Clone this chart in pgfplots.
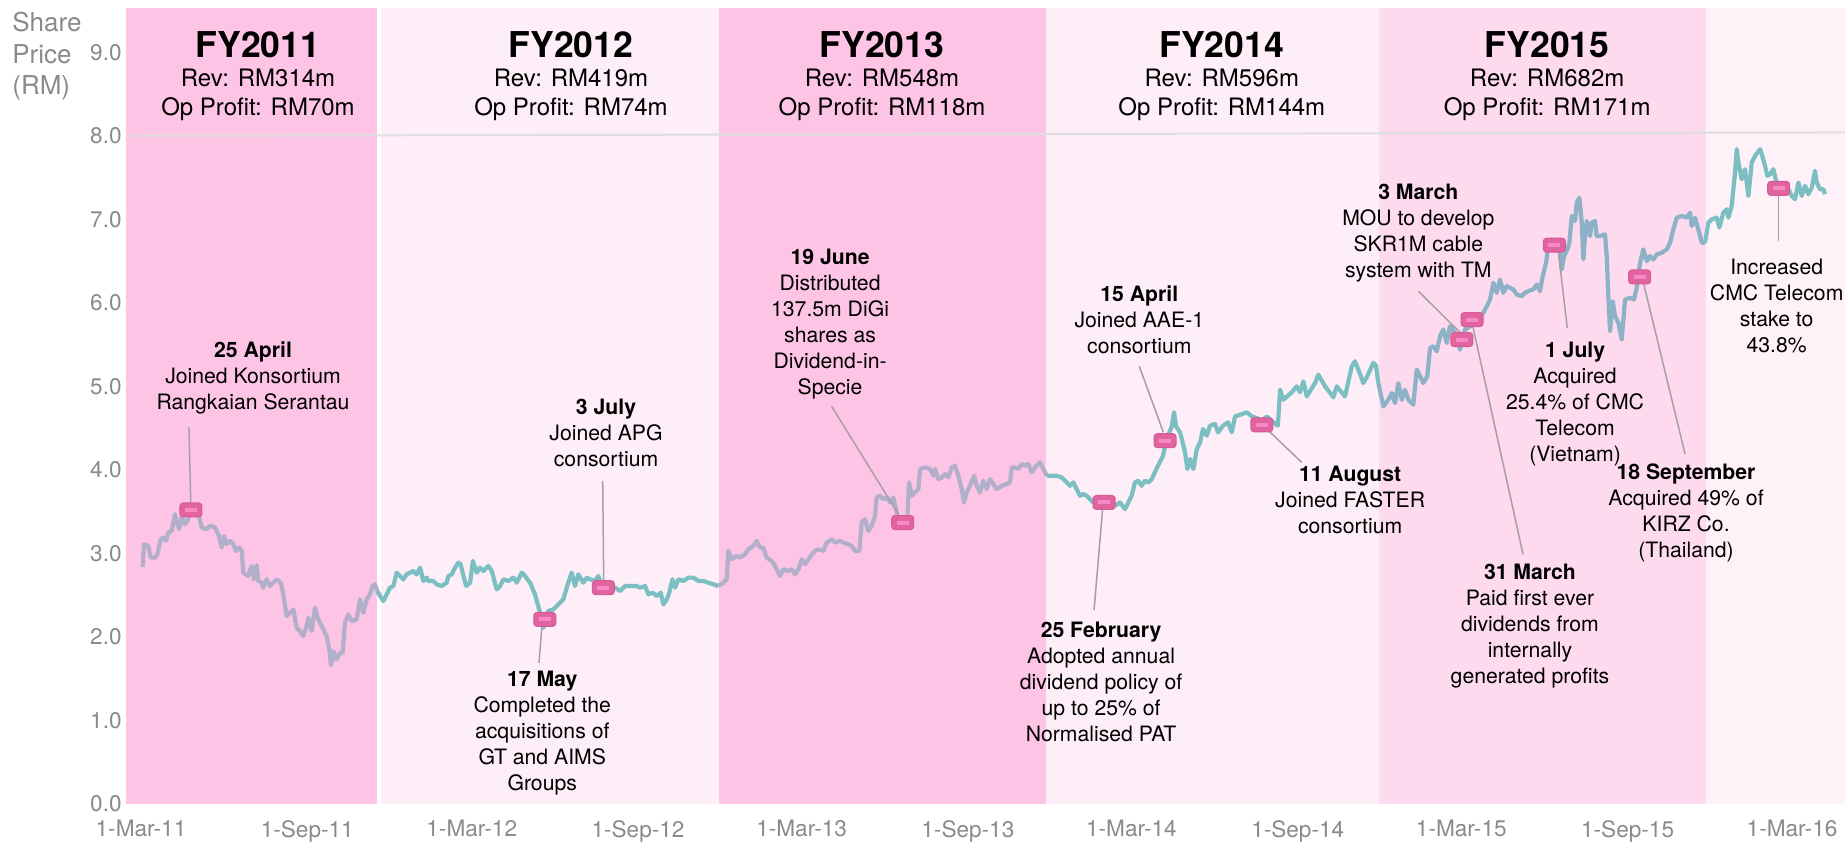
\documentclass[border=0pt]{standalone}
\usepackage{pgfplots}
\pgfplotsset{compat=1.18}
\usepackage{fontspec}
\setmainfont{TeX Gyre Heros}
\definecolor{bandA}{HTML}{FDC4E5}
\definecolor{bandB}{HTML}{FDEEF7}
\definecolor{bandC}{HTML}{FDDAEE}
\definecolor{bandD}{HTML}{FEF1F8}
\definecolor{lav}{HTML}{B2AFCB}
\definecolor{teal}{HTML}{7BBFC3}
\definecolor{steel}{HTML}{8DB1C6}
\definecolor{tickgray}{HTML}{8A8A8A}
\definecolor{leader}{HTML}{A89EA8}
\definecolor{evtOuter}{HTML}{E2649F}
\definecolor{evtBorder}{HTML}{D65A98}
\definecolor{evtInner}{HTML}{F688C6}
\pgfdeclareplotmark{evt}{%
  \pgfsetcornersarced{\pgfpoint{1.6pt}{1.6pt}}%
  \pgfpathrectangle{\pgfpoint{-5.5pt}{-3.5pt}}{\pgfpoint{11pt}{7pt}}%
  \pgfsetfillcolor{evtOuter}\pgfsetstrokecolor{evtBorder}\pgfsetlinewidth{0.5pt}%
  \pgfusepath{fill,stroke}%
  \pgfsetcornersarced{\pgfpointorigin}%
  \pgfpathrectangle{\pgfpoint{-3pt}{-1pt}}{\pgfpoint{6pt}{2pt}}%
  \pgfsetfillcolor{evtInner}\pgfusepath{fill}%
}
\tikzset{ann/.style={anchor=base, inner sep=0pt, font=\fontsize{10.6}{13}\selectfont},
  hd/.style={anchor=base, inner sep=0pt, font=\fontsize{17.8}{20}\selectfont\bfseries},
  hs/.style={anchor=base, inner sep=0pt, font=\fontsize{12}{14}\selectfont},
  price/.style={line width=2.1pt, line join=round}}
\begin{document}
\begin{tikzpicture}
\begin{axis}[
  at={(0,0)}, anchor=south west,
  width=859.5pt, height=398pt, scale only axis,
  xmin=-16.6, xmax=1885.6, ymin=0, ymax=9.53,
  axis line style={draw=none},
  major tick length=0pt,
  xtick={0,184,366,550,731,915,1096,1280,1461,1645,1827},
  xticklabels={1-Mar-11,1-Sep-11,1-Mar-12,1-Sep-12,1-Mar-13,1-Sep-13,1-Mar-14,1-Sep-14,1-Mar-15,1-Sep-15,1-Mar-16},
  ytick={0,1,2,3,4,5,6,7,8,9},
  /pgf/number format/fixed,
  /pgf/number format/fixed zerofill,
  /pgf/number format/precision=1,
  /pgf/number format/assume math mode=true,
  tick label style={font=\fontsize{11.3}{13}\selectfont, text=tickgray},
  xticklabel style={anchor=north, inner sep=0pt, yshift=-8pt},
  yticklabel style={anchor=east, inner sep=0pt, xshift=-2pt},
  clip=false,
]
% fiscal-year bands
\addplot[draw=none, fill=bandA] coordinates {(-16.6,9.53) (261,9.53)} \closedcycle;
\addplot[draw=none, fill=bandB] coordinates {(265.6,9.53) (639.6,9.53)} \closedcycle;
\addplot[draw=none, fill=bandA] coordinates {(639.6,9.53) (1001.4,9.53)} \closedcycle;
\addplot[draw=none, fill=bandB] coordinates {(1001.4,9.53) (1370,9.53)} \closedcycle;
\addplot[draw=none, fill=bandC] coordinates {(1370,9.53) (1731.8,9.53)} \closedcycle;
\addplot[draw=none, fill=bandD] coordinates {(1731.8,9.53) (1885.6,9.53)} \closedcycle;
% 8.0 rule
\addplot[black!13, line width=1pt] coordinates {(-12,8.0) (1885.6,8.04)};
% share price
\addplot[lav, price] coordinates {
(1.8,2.84) (3.3,3.11) (8.1,3.09) (10.7,2.95) (15.5,2.95) (18.1,2.99) (21.8,3.17) (24.7,3.19) (27.7,3.15) (30.2,3.25)
(33.9,3.27) (37.6,3.47) (39.5,3.37) (42.4,3.29) (45.0,3.45) (48.7,3.35) (51.2,3.39) (55.3,3.50) (59.8,3.49) (63.5,3.47)
(67.2,3.31) (72.7,3.29) (76.3,3.33) (81.9,3.31) (85.6,3.23) (89.3,3.07) (91.8,3.21) (94.8,3.11) (98.5,3.15) (102.2,3.11)
(105.1,3.03) (108.8,3.07) (111.4,3.03) (113.2,2.77) (118.7,2.73) (122.5,2.85) (125.0,2.69) (128.0,2.86) (129.8,2.67) (133.6,2.65)
(135.3,2.59) (139.1,2.69) (142.7,2.61) (146.4,2.65) (150.2,2.69) (154.6,2.65) (157.5,2.51) (161.2,2.25) (164.9,2.29) (168.6,2.33)
(172.3,2.11) (175.9,2.07) (179.6,2.01) (183.3,2.13) (185.1,2.23) (188.9,2.07) (192.5,2.35) (196.2,2.21) (199.9,2.13) (205.4,2.01)
(208.4,1.85) (210.2,1.66) (212.8,1.83) (216.5,1.73) (220.2,1.81) (223.1,1.81) (225.7,2.17) (229.4,2.27) (233.1,2.19) (238.6,2.21)
(242.3,2.45) (246.0,2.29) (249.7,2.45) (253.4,2.51) (256.4,2.61) (258.9,2.63) (261.4,2.55)};
\addplot[teal, price] coordinates {
(261.4,2.55) (268.1,2.43) (271.9,2.51) (275.5,2.59) (279.2,2.61) (282.9,2.77) (286.6,2.73) (290.3,2.69) (294.0,2.75) (301.4,2.79)
(305.1,2.75) (308.8,2.83) (312.5,2.67) (316.2,2.71) (318.0,2.67) (323.5,2.67) (327.2,2.63) (332.8,2.61) (338.3,2.65) (340.2,2.73)
(343.9,2.75) (347.5,2.83) (351.2,2.89) (353.8,2.87) (356.8,2.73) (359.8,2.61) (364.2,2.65) (367.2,2.91) (371.5,2.77) (375.1,2.83)
(378.8,2.79) (384.3,2.85) (388.1,2.79) (393.6,2.57) (397.3,2.61) (401.0,2.69) (406.5,2.67) (412.0,2.71) (415.8,2.65) (421.3,2.77)
(424.9,2.73) (430.5,2.65) (436.0,2.51) (441.6,2.29) (445.3,2.11) (450.7,2.31) (456.3,2.33) (461.8,2.39) (467.3,2.45) (472.8,2.65)
(476.6,2.77) (480.2,2.61) (483.9,2.75) (489.4,2.65) (493.2,2.71) (496.9,2.69) (502.4,2.67) (506.1,2.73) (509.8,2.61) (515.0,2.60)
(519.1,2.61) (524.6,2.59) (530.1,2.55) (535.7,2.61) (541.2,2.61) (548.6,2.61) (552.3,2.59) (557.8,2.61) (561.4,2.51) (566.3,2.53)
(570.7,2.49) (575.1,2.53) (578.0,2.39) (581.8,2.45) (584.6,2.53) (588.0,2.69) (591.0,2.59) (594.6,2.69) (600.2,2.67) (605.7,2.71)
(611.2,2.71) (616.8,2.67) (622.3,2.67) (627.8,2.65) (633.4,2.63) (638.9,2.61)};
\addplot[lav, price] coordinates {
(638.9,2.61) (644.4,2.65) (648.2,2.69) (649.9,3.03) (653.6,2.93) (659.2,2.97) (662.8,2.95) (668.4,2.99) (672.0,3.05) (677.6,3.09)
(681.3,3.15) (685.0,3.07) (688.6,3.07) (692.4,2.95) (697.9,2.91) (701.6,2.85) (707.1,2.73) (710.8,2.81) (716.3,2.79) (720.1,2.81)
(723.7,2.75) (727.4,2.81) (731.2,2.93) (734.8,2.87) (740.4,2.96) (745.8,3.03) (749.5,3.05) (755.1,3.03) (758.8,3.13) (764.3,3.17)
(768.0,3.13) (773.5,3.15) (777.2,3.13) (782.7,3.11) (786.4,3.09) (790.1,3.03) (794.9,3.03) (797.5,3.37) (801.1,3.41) (804.8,3.27)
(808.6,3.33) (812.2,3.45) (814.1,3.67) (817.8,3.69) (821.4,3.65) (825.2,3.67) (828.9,3.61) (832.5,3.67) (836.3,3.49) (840.0,3.30)
(845.0,3.40) (848.0,3.45) (849.9,3.85) (852.9,3.69) (856.5,3.73) (860.2,3.77) (862.1,4.01) (867.6,4.03) (873.2,4.01) (876.8,3.93)
(878.6,4.01) (882.3,3.89) (886.1,3.91) (889.7,3.95) (893.4,3.91) (897.1,4.03) (900.8,4.05) (904.4,3.93) (908.2,3.77) (910.7,3.61)
(913.7,3.73) (917.3,3.81) (921.8,3.93) (924.8,3.81) (928.4,3.73) (932.1,3.87) (935.8,3.77) (939.5,3.89) (943.2,3.83) (946.9,3.77)
(952.4,3.81) (958.0,3.83) (961.6,3.85) (963.5,4.03) (967.2,4.03) (970.8,4.01) (974.6,4.07) (978.2,4.05) (981.9,4.07) (985.7,3.97)
(989.3,4.03) (994.8,4.09) (998.5,4.01) (1002.3,3.93)};
\addplot[teal, price] coordinates {
(1002.3,3.93) (1007.8,3.93) (1013.3,3.93) (1018.9,3.91) (1024.4,3.85) (1028.0,3.81) (1031.7,3.85) (1035.4,3.77) (1039.1,3.69) (1042.8,3.71)
(1046.5,3.69) (1050.2,3.65) (1053.8,3.61) (1061.2,3.59) (1066.0,3.60) (1072.2,3.59) (1077.8,3.57) (1083.3,3.61) (1088.8,3.53) (1092.5,3.61)
(1096.2,3.69) (1099.9,3.85) (1103.6,3.87) (1107.3,3.81) (1111.0,3.87) (1114.7,3.85) (1118.4,3.89) (1125.4,4.05) (1130.9,4.17) (1135.0,4.37)
(1140.6,4.52) (1143.1,4.69) (1145.4,4.52) (1149.8,4.45) (1155.3,4.21) (1157.9,4.01) (1160.9,4.13) (1164.5,4.01) (1168.3,4.25) (1172.0,4.33)
(1175.2,4.49) (1179.3,4.41) (1183.0,4.53) (1188.5,4.55) (1191.8,4.45) (1197.4,4.53) (1202.9,4.57) (1207.0,4.45) (1210.6,4.64) (1216.2,4.66)
(1223.6,4.69) (1229.1,4.64) (1235.0,4.62) (1240.2,4.58) (1245.7,4.64) (1253.0,4.57) (1258.0,4.53) (1260.5,4.96) (1264.1,4.84) (1273.4,4.93)
(1278.9,5.00) (1282.6,4.93) (1286.2,5.06) (1290.0,4.88) (1299.2,5.04) (1302.8,5.14) (1310.2,5.00) (1319.4,4.87) (1323.2,5.00) (1332.3,4.88)
(1339.8,5.24) (1343.4,5.30) (1347.1,5.20) (1352.6,5.04) (1356.4,5.11) (1363.6,5.28) (1366.6,5.25) (1369.2,5.04)};
\addplot[steel, price] coordinates {
(1369.2,5.04) (1374.8,4.76) (1380.3,4.84) (1384.0,4.92) (1387.7,4.80) (1391.3,5.04) (1395.1,4.84) (1398.7,4.96) (1402.4,4.84) (1407.9,4.78)
(1411.7,5.20) (1415.4,5.12) (1419.0,5.04) (1423.4,5.12) (1426.4,5.46) (1430.1,5.48) (1433.8,5.42) (1437.5,5.60) (1441.1,5.68) (1444.9,5.52)
(1448.5,5.72) (1454.0,5.64) (1459.6,5.44) (1465.1,5.68) (1470.7,5.72) (1476.2,5.76) (1481.7,5.84) (1485.4,5.88) (1489.2,5.96) (1492.8,6.04)
(1496.5,6.24) (1500.2,6.12) (1503.9,6.28) (1507.5,6.12) (1511.3,6.20) (1514.9,6.18) (1518.6,6.16) (1522.3,6.10) (1527.9,6.08) (1531.5,6.12)
(1535.2,6.14) (1540.7,6.16) (1544.5,6.22) (1548.1,6.14) (1551.1,6.32) (1554.8,6.48) (1557.3,6.68) (1561.1,6.76) (1566.6,6.68) (1570.3,6.60)
(1572.1,6.40) (1574.7,6.56) (1578.3,6.64) (1580.6,6.72) (1583.2,7.04) (1586.9,6.98) (1588.8,7.20) (1591.6,7.26) (1594.3,6.96) (1596.1,6.52)
(1597.9,6.80) (1599.8,6.98) (1603.5,6.80) (1605.3,6.96) (1609.0,6.98) (1610.8,6.80) (1614.5,6.80) (1620.0,6.82) (1621.9,6.56) (1623.7,6.08)
(1625.6,5.66) (1628.5,6.02) (1631.1,5.84) (1634.8,5.76) (1638.5,5.56) (1642.2,6.04) (1647.7,6.06) (1652.1,6.04) (1655.1,6.18) (1658.8,6.48)
(1662.4,6.64) (1666.2,6.50) (1669.8,6.56) (1673.5,6.52) (1677.3,6.58) (1682.8,6.60) (1688.3,6.64) (1692.0,6.72) (1695.6,6.88) (1699.4,7.02)
(1704.9,7.04) (1710.5,7.02) (1714.1,7.08) (1716.0,6.92) (1719.6,7.02) (1723.3,6.88) (1727.1,6.72) (1730.7,6.72)};
\addplot[teal, price] coordinates {
(1730.7,6.72) (1734.4,6.96) (1738.1,7.00) (1743.7,7.02) (1746.5,6.90) (1751.0,7.08) (1754.7,7.12) (1756.5,7.02) (1760.2,7.16) (1763.9,7.56)
(1765.8,7.84) (1767.6,7.68) (1771.3,7.48) (1775.0,7.60) (1778.7,7.28) (1782.4,7.68) (1786.1,7.76) (1791.6,7.84) (1793.5,7.78) (1797.1,7.64)
(1799.7,7.52) (1802.6,7.54) (1806.3,7.60) (1809.3,7.46) (1812.2,7.34) (1817.4,7.34) (1822.9,7.36) (1826.7,7.28) (1830.3,7.24) (1834.0,7.44)
(1837.7,7.28) (1841.4,7.40) (1845.0,7.30) (1848.8,7.38) (1852.4,7.58) (1854.3,7.44) (1857.9,7.36) (1861.6,7.36) (1863.4,7.30)};
% leader lines
\draw[leader, line width=0.75pt] (axis cs:53.1,4.51) -- (axis cs:55,3.61);
\draw[leader, line width=0.75pt] (axis cs:443.5,2.11) -- (axis cs:440.4,1.69);
\draw[leader, line width=0.75pt] (axis cs:512,2.67) -- (axis cs:510.9,3.87);
\draw[leader, line width=0.75pt] (axis cs:838,3.47) -- (axis cs:764.3,4.76);
\draw[leader, line width=0.75pt] (axis cs:1064,3.52) -- (axis cs:1054.6,2.32);
\draw[leader, line width=0.75pt] (axis cs:1131.3,4.45) -- (axis cs:1104.7,5.24);
\draw[leader, line width=0.75pt] (axis cs:1245.7,4.49) -- (axis cs:1284.4,4.09);
\draw[leader, line width=0.75pt] (axis cs:1460,5.64) -- (axis cs:1413.5,6.14);
\draw[leader, line width=0.75pt] (axis cs:1473.7,5.72) -- (axis cs:1529.3,2.99);
\draw[leader, line width=0.75pt] (axis cs:1568.7,6.58) -- (axis cs:1578.3,5.70);
\draw[leader, line width=0.75pt] (axis cs:1663,6.22) -- (axis cs:1708.6,4.19);
\draw[leader, line width=0.75pt] (axis cs:1812.2,7.30) -- (axis cs:1812.2,6.74);
% event markers
\addplot[only marks, mark=evt] coordinates {
(55.3,3.52) (446.8,2.21) (511.6,2.59) (842.9,3.37) (1065.7,3.61) (1133.2,4.35)
(1240.2,4.54) (1461.5,5.56) (1472.9,5.80) (1564,6.69) (1658.4,6.31) (1812.2,7.37)};
% fiscal year headers
\node[hd] at (axis cs:129.5,8.94) {FY2011};
\node[hs] at (axis cs:129.5,8.59) {Rev: RM314m};
\node[hs] at (axis cs:129.5,8.24) {Op Profit: RM70m};
\node[hd] at (axis cs:475.8,8.94) {FY2012};
\node[hs] at (axis cs:475.8,8.59) {Rev: RM419m};
\node[hs] at (axis cs:475.8,8.24) {Op Profit: RM74m};
\node[hd] at (axis cs:820,8.94) {FY2013};
\node[hs] at (axis cs:820,8.59) {Rev: RM548m};
\node[hs] at (axis cs:820,8.24) {Op Profit: RM118m};
\node[hd] at (axis cs:1196,8.94) {FY2014};
\node[hs] at (axis cs:1196,8.59) {Rev: RM596m};
\node[hs] at (axis cs:1196,8.24) {Op Profit: RM144m};
\node[hd] at (axis cs:1556,8.94) {FY2015};
\node[hs] at (axis cs:1556,8.59) {Rev: RM682m};
\node[hs] at (axis cs:1556,8.24) {Op Profit: RM171m};
% annotations
\node[ann] at (axis cs:124,5.34) {\begin{tabular}[t]{@{}c@{}}\textbf{25 April}\\Joined Konsortium\\Rangkaian Serantau\end{tabular}};
\node[ann] at (axis cs:444,1.41) {\begin{tabular}[t]{@{}c@{}}\textbf{17 May}\\Completed the\\acquisitions of\\GT and AIMS\\Groups\end{tabular}};
\node[ann] at (axis cs:514.6,4.66) {\begin{tabular}[t]{@{}c@{}}\textbf{3 July}\\Joined APG\\consortium\end{tabular}};
\node[ann] at (axis cs:762.5,6.46) {\begin{tabular}[t]{@{}c@{}}\textbf{19 June}\\Distributed\\137.5m DiGi\\shares as\\Dividend-in-\\Specie\end{tabular}};
\node[ann] at (axis cs:1062.4,1.99) {\begin{tabular}[t]{@{}c@{}}\textbf{25 February}\\Adopted annual\\dividend policy of\\up to 25\% of\\Normalised PAT\end{tabular}};
\node[ann] at (axis cs:1104.7,6.02) {\begin{tabular}[t]{@{}c@{}}\textbf{15 April}\\Joined AAE-1\\consortium\end{tabular}};
\node[ann] at (axis cs:1338,3.86) {\begin{tabular}[t]{@{}c@{}}\textbf{11 August}\\Joined FASTER\\consortium\end{tabular}};
\node[ann] at (axis cs:1413.5,7.24) {\begin{tabular}[t]{@{}c@{}}\textbf{3 March}\\MOU to develop\\SKR1M cable\\system with TM\end{tabular}};
\node[ann] at (axis cs:1537,2.69) {\begin{tabular}[t]{@{}c@{}}\textbf{31 March}\\Paid first ever\\dividends from\\internally\\generated profits\end{tabular}};
\node[ann] at (axis cs:1586.9,5.35) {\begin{tabular}[t]{@{}c@{}}\textbf{1 July}\\Acquired\\25.4\% of CMC\\Telecom\\(Vietnam)\end{tabular}};
\node[ann] at (axis cs:1709.7,3.89) {\begin{tabular}[t]{@{}c@{}}\textbf{18 September}\\Acquired 49\% of\\KIRZ Co.\\(Thailand)\end{tabular}};
\node[ann] at (axis cs:1810,6.34) {\begin{tabular}[t]{@{}c@{}}Increased\\CMC Telecom\\stake to\\43.8\%\end{tabular}};
\end{axis}
\node[anchor=base west, inner sep=0pt, text=tickgray, font=\fontsize{13}{15}\selectfont] at (-57pt,386.2pt) {Share};
\node[anchor=base west, inner sep=0pt, text=tickgray, font=\fontsize{13}{15}\selectfont] at (-57pt,370.4pt) {Price};
\node[anchor=base west, inner sep=0pt, text=tickgray, font=\fontsize{13}{15}\selectfont] at (-57pt,354.5pt) {(RM)};
\pgfresetboundingbox
\path[use as bounding box] (-63pt,-19pt) rectangle (859.5pt,402pt);
\end{tikzpicture}
\end{document}
